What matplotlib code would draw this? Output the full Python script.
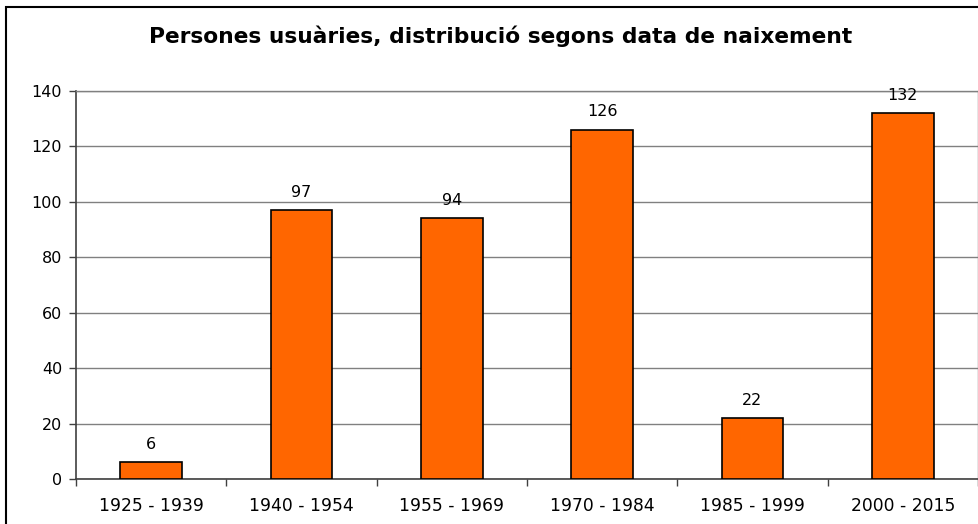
import matplotlib
matplotlib.use("Agg")
import matplotlib.pyplot as plt
from matplotlib.patches import Rectangle
import numpy as np

categories = ["1925 - 1939", "1940 - 1954", "1955 - 1969", "1970 - 1984", "1985 - 1999", "2000 - 2015"]
values = [6, 97, 94, 126, 22, 132]
yticks = [0, 20, 40, 60, 80, 100, 120, 140]
title = "Persones usuàries, distribució segons data de naixement"

plt.rcParams['font.family'] = ['DejaVu Sans']

fig = plt.figure(figsize=(9.79, 5.24), dpi=100)
W, H = 979, 524
ax = fig.add_axes([76 / W, 1 - 479 / H, 902 / W, (479 - 91) / H])

x = np.arange(len(categories))
ax.bar(x, values, width=0.41, color="#FF6600", edgecolor="black", linewidth=1.2, zorder=3)
for xi, v in zip(x, values):
    ax.text(xi, v + 4.8, str(v), ha="center", va="baseline", fontsize=11.5, color="black")

ax.set_xlim(-0.5, len(categories) - 0.5)
ax.set_ylim(0, 140)
ax.set_yticks(yticks)
ax.set_yticklabels([str(t) for t in yticks], fontsize=11.5)
ax.yaxis.grid(True, color="#808080", linewidth=1.0, zorder=0)
ax.set_axisbelow(True)

ax.set_xticks(x)
ax.set_xticklabels(categories, fontsize=12.3)
ax.tick_params(axis="x", which="major", length=0, pad=13)
ax.set_xticks(np.arange(-0.5, len(categories) + 0.5, 1), minor=True)
ax.tick_params(axis="x", which="minor", length=5, direction="out", color="#404040", width=1)
ax.tick_params(axis="y", length=5, direction="out", color="#404040", width=1, pad=5)

for s in ["left", "bottom"]:
    ax.spines[s].set_color("#404040")
    ax.spines[s].set_linewidth(1.2)
for s in ["top", "right"]:
    ax.spines[s].set_color("#808080")
    ax.spines[s].set_linewidth(1.0)

fig.text(501 / W, 1 - 36 / H, title, ha="center", va="center", fontsize=15.7, fontweight="bold")

fig.patches.append(Rectangle((6 / W, -0.1), 2, 1 - 7 / H + 0.1, transform=fig.transFigure,
                             fill=False, edgecolor="black", linewidth=1.5))

fig.savefig("out.png", dpi=100)
